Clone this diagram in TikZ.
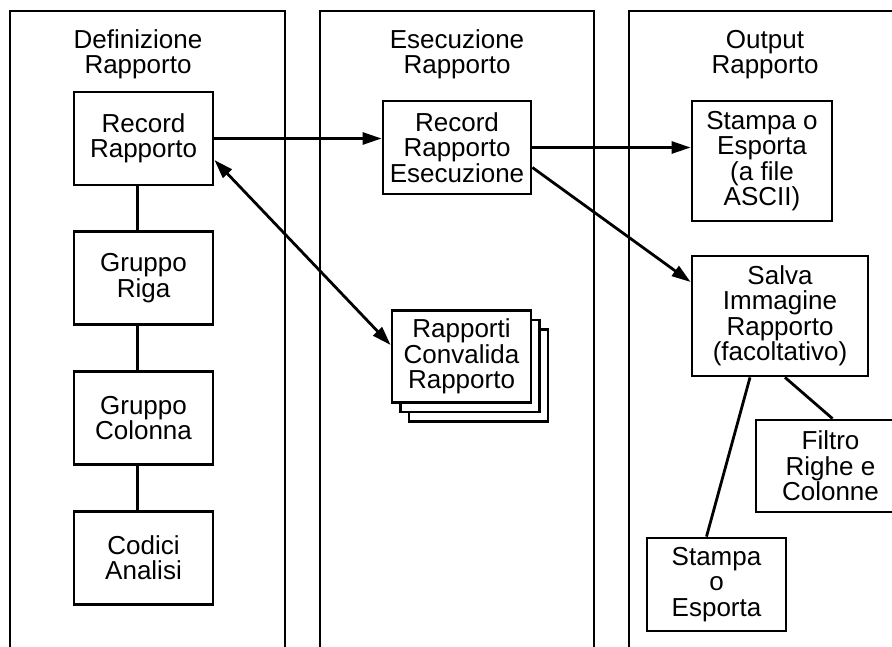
\documentclass[tikz,border=0pt]{standalone}
\usepackage{fontspec}
\setmainfont{Liberation Sans}
\usetikzlibrary{positioning,arrows.meta,shadows}

\begin{document}
\begin{tikzpicture}[node distance=44pt,
  font=\fontsize{26}{25.5}\selectfont,
  lane/.style={line width=2.8pt},
  title/.style={align=center,inner sep=0pt},
  box/.style 2 args={draw,line width=2.8pt,fill=white,align=center,inner sep=2pt,minimum width=#1,minimum height=#2},
  link/.style={line width=2.8pt},
  flow/.style={line width=2.8pt,-{Triangle[length=19pt,width=12pt]}},
  twoway/.style={line width=2.8pt,{Triangle[length=19pt,width=12pt]}-{Triangle[length=19pt,width=12pt]}}]
\useasboundingbox (0pt,0pt) rectangle (892pt,-646pt);

% the three lanes
\draw[lane] (10pt,-660pt) |- (285pt,-11pt) -- (285pt,-660pt);
\draw[lane] (320pt,-660pt) |- (594pt,-11pt) -- (594pt,-660pt);
\draw[lane] (629pt,-660pt) |- (905pt,-11pt);

\node[title] (tdef) at (138pt,-54.5pt) {Definizione\\Rapporto};
\node[title] (tese) at (457pt,-54.5pt) {Esecuzione\\Rapporto};
\node[title] (tout) at (765pt,-54.5pt) {Output\\Rapporto};

% definition lane
\node[box={139pt}{93pt}] (rec) at (143.5pt,-138.5pt) {Record\\Rapporto};
\node[box={139pt}{93pt}] (rig) [below=of rec] {Gruppo\\Riga};
\node[box={139pt}{93pt}] (col) [below=of rig] {Gruppo\\Colonna};
\node[box={139pt}{93pt}] (cod) [below=of col] {Codici\\Analisi};

% execution lane
\node[box={148pt}{93pt}] (ese) at (457pt,-147.5pt) {Record\\Rapporto\\Esecuzione};
\node[box={139pt}{92pt},
  copy shadow={shadow xshift=17pt,shadow yshift=-19pt,draw=black,fill=white,line width=2.8pt},
  copy shadow={shadow xshift=8.5pt,shadow yshift=-9.5pt,draw=black,fill=white,line width=2.8pt}]
  (conv) at (461.5pt,-356.5pt) {Rapporti\\Convalida\\Rapporto};

% output lane
\node[box={140pt}{120pt}] (asc) at (762pt,-161pt) {Stampa o\\Esporta\\(a file\\ASCII)};
\node[box={176pt}{120pt}] (sal) at (780pt,-316pt) {Salva\\Immagine\\Rapporto\\(facoltativo)};
\node[box={149pt}{92pt}] (fil) at (830.5pt,-466pt) {Filtro\\Righe e\\Colonne};
\node[box={139pt}{93pt}] (sto) at (716.5pt,-584.5pt) {Stampa\\o\\Esporta};

\foreach \a/\b in {rec/rig,rig/col,col/cod}
  \draw[link] ([xshift=-6pt]\a.south) -- ([xshift=-6pt]\b.north);

\draw[flow] (rec.east) -- (rec.east -| ese.west);
\draw[flow] (ese.east) -- (ese.east -| asc.west);
\draw[flow] ([yshift=-20pt]ese.east) -- ([yshift=34pt]sal.west);
\draw[twoway] ([yshift=-21.5pt]rec.east) -- ([yshift=11.5pt]conv.west);
\draw[link] ([xshift=-30pt]sal.south) -- ([xshift=-10pt]sto.north);
\draw[link] ([xshift=5pt]sal.south) -- ([xshift=2pt]fil.north);
\end{tikzpicture}
\end{document}
